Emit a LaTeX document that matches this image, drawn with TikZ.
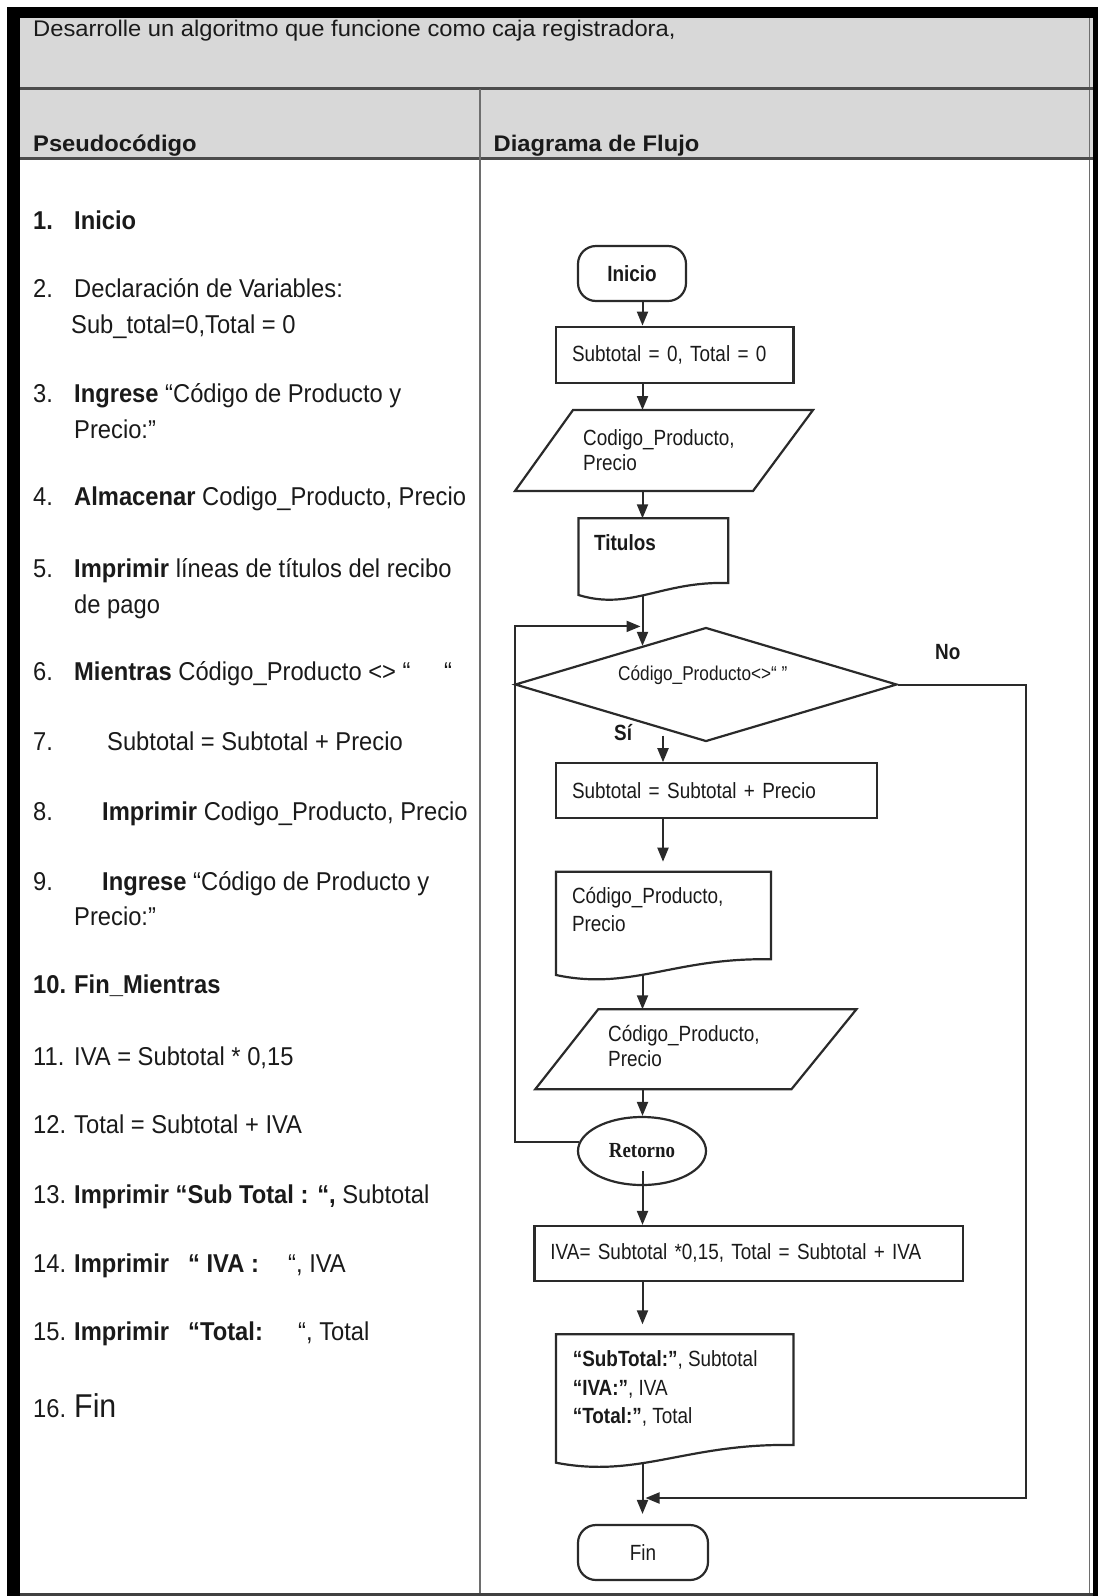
\documentclass[tikz,border=0pt]{standalone}
\usepackage{fontspec}
\setmainfont{Liberation Sans}
\newfontfamily\hdfont[FakeStretch=1.05]{Liberation Sans}
\newfontfamily\pcfont[FakeStretch=0.92]{Liberation Sans}
\newfontfamily\fcfont[FakeStretch=0.86]{Liberation Sans}
\newfontfamily\rtfont[FakeStretch=0.88]{Liberation Serif}
\usetikzlibrary{shapes.geometric,arrows.meta,calc}
\definecolor{hdr}{HTML}{D8D8D8}
\definecolor{flc}{HTML}{2A2A2A}
\definecolor{grd}{HTML}{6E6E6E}
\definecolor{txt}{HTML}{1A1A1A}
\newcommand\DocOutline[2]{%
  \draw[fl] (#1.south west) -- (#1.north west) -- (#1.north east) -- ([yshift=#2pt]#1.south east)
    .. controls ($(#1.south west)!0.55!(#1.south east)+(0,-#2-2)$) and ($(#1.south west)!0.35!(#1.south east)+(0,16)$) .. (#1.south west) -- cycle;}
\begin{document}
\begin{tikzpicture}[x=1pt,y=-1pt,
  pc/.style={anchor=base west,inner sep=0pt,text=txt,font=\pcfont\fontsize{25.8}{30}\selectfont},
  hd/.style={anchor=base west,inner sep=0pt,text=txt,font=\hdfont\fontsize{22.6}{26}\selectfont},
  fc/.style={anchor=base west,inner sep=0pt,text=txt,font=\fcfont\fontsize{22}{25}\selectfont},
  fl/.style={draw=flc,line width=2.2pt,line join=miter},
  procbox/.style={rectangle,fl,inner xsep=16pt,inner ysep=0pt,align=left,text=txt,font=\fcfont\fontsize{22}{25}\selectfont},
  termnode/.style={rectangle,fl,rounded corners=18pt,inner sep=0pt,text=txt,font=\fcfont\fontsize{22}{25}\selectfont},
  shp/.style={rectangle,inner sep=0pt,outer sep=0pt},
  arr/.style={draw=flc,line width=2pt,-{Triangle[length=14pt,width=11pt]}},
]
\useasboundingbox (0,0) rectangle (1098,1596);
% ---------- table frame ----------
\fill[hdr] (20,18) rectangle (1093,158);
\fill[black] (7,7) rectangle (1098,18);
\fill[black] (7,7) rectangle (20,1596);
\fill[black] (1093,7) rectangle (1098,1596);
\draw[grd,line width=1pt] (1089,18) -- (1089,1594);
\draw[draw=black!70,line width=3pt] (20,88.5) -- (1093,88.5);
\draw[draw=black!70,line width=3pt] (20,158) -- (1093,158);
\draw[grd,line width=1.6pt] (480,88.5) -- (480,1594);
\draw[draw=black!75,line width=3pt] (20,1594.5) -- (1093,1594.5);
% ---------- header ----------
\node[hd] (title) at (33,36) {Desarrolle un algoritmo que funcione como caja registradora,};
\node[hd] (hpseudo) at (33,151) {\bfseries Pseudocódigo};
\node[hd] (hflujo) at (493.5,151) {\bfseries Diagrama de Flujo};
% ---------- pseudocode ----------
\node[pc] (n1) at (33,229) {\bfseries 1.};
\node[pc] (t1) at (74,229) {\bfseries Inicio};
\node[pc] (n2) at (33,297) {2.};
\node[pc] (t2) at (74,297) {Declaración de Variables:};
\node[pc] (t2b) at (71,333) {Sub\_total=0,Total = 0};
\node[pc] (n3) at (33,402) {3.};
\node[pc] (t3) at (74,402) {\textbf{Ingrese} “Código de Producto y};
\node[pc] (t3b) at (74,438) {Precio:”};
\node[pc] (n4) at (33,505) {4.};
\node[pc] (t4) at (74,505) {\textbf{Almacenar} Codigo\_Producto, Precio};
\node[pc] (n5) at (33,577) {5.};
\node[pc] (t5) at (74,577) {\textbf{Imprimir} líneas de títulos del recibo};
\node[pc] (t5b) at (74,613) {de pago};
\node[pc] (n6) at (33,680) {6.};
\node[pc] (t6) at (74,680) {\textbf{Mientras} Código\_Producto <> “};
\node[pc] (t6b) at (444,680) {“};
\node[pc] (n7) at (33,750) {7.};
\node[pc] (t7) at (107,750) {Subtotal = Subtotal + Precio};
\node[pc] (n8) at (33,820) {8.};
\node[pc] (t8) at (102,820) {\textbf{Imprimir} Codigo\_Producto, Precio};
\node[pc] (n9) at (33,890) {9.};
\node[pc] (t9) at (102,890) {\textbf{Ingrese} “Código de Producto y};
\node[pc] (t9b) at (74,925) {Precio:”};
\node[pc] (n10) at (33,993) {\bfseries 10.};
\node[pc] (t10) at (74,993) {\bfseries Fin\_Mientras};
\node[pc] (n11) at (33,1065) {11.};
\node[pc] (t11) at (74,1065) {IVA = Subtotal * 0,15};
\node[pc] (n12) at (33,1133) {12.};
\node[pc] (t12) at (74,1133) {Total = Subtotal + IVA};
\node[pc] (n13) at (33,1203) {13.};
\node[pc] (t13) at (74,1203) {\textbf{Imprimir “Sub Total : “,} Subtotal};
\node[pc] (n14) at (33,1272) {14.};
\node[pc] (t14) at (74,1272) {\bfseries Imprimir};
\node[pc] (t14b) at (188,1272) {\bfseries “ IVA :};
\node[pc] (t14c) at (288,1272) {“, IVA};
\node[pc] (n15) at (33,1340) {15.};
\node[pc] (t15) at (74,1340) {\bfseries Imprimir};
\node[pc] (t15b) at (188,1340) {\bfseries “Total:};
\node[pc] (t15c) at (298,1340) {“, Total};
\node[pc] (n16) at (33,1417) {16.};
\node[pc,font=\pcfont\fontsize{33}{36}\selectfont] (t16) at (74,1417) {Fin};
% ---------- flowchart ----------
\coordinate (xa) at (642.5,0);
\coordinate (xb) at (663,0);
\coordinate (xl) at (515,0);
\coordinate (xr) at (1026,0);
\coordinate (yb) at (0,1498);

\node[termnode,minimum width=108pt,minimum height=55pt] (ini) at (632,273.5) {\bfseries Inicio};
\node[procbox,minimum width=237.4pt,minimum height=56pt,text width=205.4pt] (b1) at (674.7,354.7) {Subtotal = 0, Total = 0};

\node[shp,minimum width=298pt,minimum height=81pt] (p1) at (664,450.5) {};
\draw[fl] ([xshift=58pt]p1.north west) -- (p1.north east) -- ([xshift=-60pt]p1.south east) -- (p1.south west) -- cycle;
\node[fc] (p1t) at (583,445) {\parbox[t]{220pt}{\fontsize{22}{25}\selectfont Codigo\_Producto,\\Precio}};

\node[shp,minimum width=149.8pt,minimum height=76.7pt] (d1) at (653.4,556.65) {};
\DocOutline{d1}{12}
\node[fc] (d1t) at (594,550) {\bfseries Titulos};

\node[diamond,fl,minimum width=382pt,minimum height=114pt,inner sep=0pt] (dec) at (706,684.5) {};
\node[fc,font=\fcfont\fontsize{20}{22}\selectfont] (dect) at (618,680) {Código\_Producto<>“ ”};
\node[fc] (nolab) at (935,659) {\bfseries No};
\node[fc] (silab) at (614,740) {\bfseries Sí};

\node[procbox,minimum width=321.3pt,minimum height=55pt,text width=289.3pt] (b2) at (716.65,790.8) {Subtotal = Subtotal + Precio};

\node[shp,minimum width=215pt,minimum height=103.3pt] (d2) at (663.5,923.35) {};
\DocOutline{d2}{15.7}
\node[fc] (d2t) at (571.8,903) {\parbox[t]{190pt}{\fontsize{22}{28}\selectfont Código\_Producto,\\Precio}};

\node[shp,minimum width=321.2pt,minimum height=80pt] (p2) at (695.8,1049.3) {};
\draw[fl] ([xshift=63pt]p2.north west) -- (p2.north east) -- ([xshift=-65pt]p2.south east) -- (p2.south west) -- cycle;
\node[fc] (p2t) at (608,1041.7) {\parbox[t]{220pt}{\fontsize{22}{25}\selectfont Código\_Producto,\\Precio}};

\node[ellipse,fl,minimum width=128pt,minimum height=68pt,inner sep=0pt,text=txt,font=\rtfont\bfseries\fontsize{21.5}{24}\selectfont] (ret) at (642,1151) {Retorno};

\node[procbox,minimum width=428.5pt,minimum height=54.7pt,text width=396.5pt] (iva) at (748.65,1253.35) {IVA= Subtotal *0,15, Total = Subtotal + IVA};

\node[shp,minimum width=237.4pt,minimum height=128.4pt] (d3) at (674.7,1398.5) {};
\DocOutline{d3}{17.7}
\node[fc] (d3t) at (572.6,1366.7) {\parbox[t]{220pt}{\fontsize{22}{28.3}\selectfont \textbf{“SubTotal:”}, Subtotal\\\textbf{“IVA:”}, IVA\\\textbf{“Total:”}, Total}};

\node[termnode,minimum width=130pt,minimum height=55pt] (fin) at (643,1552.5) {Fin};

% ---------- connectors ----------
\draw[arr] (xa |- ini.south) -- (xa |- b1.north);
\draw[arr] (xa |- b1.south) -- (xa |- p1.north);
\draw[arr] (xa |- p1.south) -- (xa |- d1.north);
\draw[arr] (xa |- d1.south) -- (xa |- dec.149.1);
\draw[arr] (ret.172) -| (xl |- dec.north) -- ([xshift=-2pt]xa |- dec.north);
\draw[arr] ([yshift=7pt]xb |- dec.south) -- (xb |- b2.north);
\draw[arr,shorten >=10pt] (xb |- b2.south) -- (xb |- d2.north);
\draw[arr] (xa |- d2.south) -- (xa |- p2.north);
\draw[arr] (xa |- p2.south) -- (xa |- ret.north);
\draw[arr] ([yshift=-20pt]xa |- ret.center) -- (xa |- iva.north);
\draw[arr,shorten >=10pt] (xa |- iva.south) -- (xa |- d3.north);
\draw[arr,shorten >=10pt] (xa |- d3.south) -- (xa |- fin.north);
\draw[arr] (dec.east) -- (xr |- dec.east) -- (xr |- yb) -- ([xshift=3pt]xa |- yb);
\end{tikzpicture}
\end{document}
